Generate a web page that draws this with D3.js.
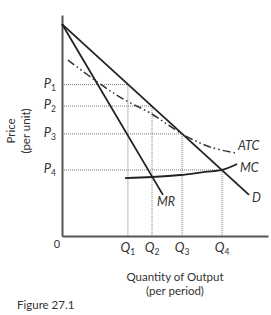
<!DOCTYPE html>
<html>
<head>
<meta charset="utf-8">
<script src="https://cdn.jsdelivr.net/npm/d3@7"></script>
<style>
  body { margin: 0; background: #fff; }
  text { font-family: Lato, "Liberation Sans", sans-serif; fill: #333; }
</style>
</head>
<body>
<script>
// Values (arbitrary units, 0-10 on both axes)
const priceLabels = ["P1", "P2", "P3", "P4"];
const priceLevels = [6.85, 5.88, 4.62, 2.99];
const qtyLabels = ["Q1", "Q2", "Q3", "Q4"];
const qtyLevels = [3.2, 4.37, 5.83, 7.77];

const demandLine = [[0, 9.59], [9.08, 1.86]];
const mrLine = [[0, 9.59], [4.9, 1.86]];
const atcCurve = [[0.29, 7.96], [1.99, 6.79], [3.06, 6.15], [4.27, 5.57], [5.83, 4.62], [7.18, 4.03], [8.4, 3.76]];
const mcCurve = [[3.06, 2.62], [4.37, 2.67], [5.73, 2.76], [6.94, 2.9], [7.77, 2.99], [8.5, 3.26]];

const width = 271, height = 315;
const margin = { left: 62, top: 15, right: 3, bottom: 79 };

const x = d3.scaleLinear().domain([0, 10]).range([margin.left, width - margin.right]);
const y = d3.scaleLinear().domain([0, 10]).range([height - margin.bottom, margin.top]);

const svg = d3.select("body").append("svg")
    .attr("width", width)
    .attr("height", height);

// dotted guide lines
const guides = svg.append("g")
    .attr("stroke", "#777")
    .attr("stroke-width", 1)
    .attr("stroke-dasharray", "1,1");

priceLevels.forEach((p, i) => {
    const q = qtyLevels[i];
    guides.append("line")
        .attr("x1", x(0)).attr("x2", x(q))
        .attr("y1", y(p)).attr("y2", y(p));
    guides.append("line")
        .attr("x1", x(q)).attr("x2", x(q))
        .attr("y1", y(p)).attr("y2", y(0));
});

// axes
svg.append("g")
    .attr("transform", `translate(0,${y(0)})`)
    .call(d3.axisBottom(x).tickValues([]).tickSizeOuter(0))
    .call(g => g.select(".domain").attr("stroke", "#555").attr("stroke-width", 2));
svg.append("g")
    .attr("transform", `translate(${x(0)},0)`)
    .call(d3.axisLeft(y).tickValues([]).tickSizeOuter(0))
    .call(g => g.select(".domain").attr("stroke", "#555").attr("stroke-width", 2));

const line = d3.line().x(d => x(d[0])).y(d => y(d[1]));
const curve = d3.line().x(d => x(d[0])).y(d => y(d[1])).curve(d3.curveCatmullRom);

svg.append("path").datum(demandLine)
    .attr("d", line).attr("fill", "none").attr("stroke", "#222").attr("stroke-width", 1.8);
svg.append("path").datum(mrLine)
    .attr("d", line).attr("fill", "none").attr("stroke", "#222").attr("stroke-width", 1.8);
svg.append("path").datum(atcCurve)
    .attr("d", curve).attr("fill", "none").attr("stroke", "#333").attr("stroke-width", 1.5)
    .attr("stroke-dasharray", "8,3,1.5,3,1.5,3");
svg.append("path").datum(mcCurve)
    .attr("d", curve).attr("fill", "none").attr("stroke", "#222").attr("stroke-width", 1.8);

// curve labels
const curveLabel = (txt, px, py) => svg.append("text")
    .attr("x", px).attr("y", py)
    .attr("font-size", 12.5).attr("font-style", "italic")
    .attr("dominant-baseline", "middle")
    .text(txt);
curveLabel("ATC", x(8.4) + 3, y(3.76) - 6);
curveLabel("MC", x(8.5) + 3, y(3.26) + 5);
curveLabel("D", x(9.08) + 3, y(1.86) + 4);
curveLabel("MR", x(4.9) - 6, y(1.86) + 8);

// P labels
priceLabels.forEach((lab, i) => {
    const t = svg.append("text")
        .attr("x", x(0) - 6).attr("y", y(priceLevels[i]))
        .attr("text-anchor", "end")
        .attr("dominant-baseline", "middle")
        .attr("font-size", 13).attr("font-style", "italic");
    t.append("tspan").text(lab[0]);
    t.append("tspan").attr("font-size", 8.5).attr("dy", 4).attr("font-style", "normal").text(lab.slice(1));
});

// Q labels
qtyLabels.forEach((lab, i) => {
    const t = svg.append("text")
        .attr("x", x(qtyLevels[i])).attr("y", y(0) + 16)
        .attr("text-anchor", "middle")
        .attr("font-size", 13).attr("font-style", "italic");
    t.append("tspan").text(lab[0]);
    t.append("tspan").attr("font-size", 8.5).attr("dy", 3).attr("font-style", "normal").text(lab.slice(1));
});

svg.append("text")
    .attr("x", x(0) - 5).attr("y", y(0) + 12)
    .attr("text-anchor", "middle").attr("font-size", 11)
    .text("0");

// axis titles
svg.append("text")
    .attr("transform", "translate(15,131) rotate(-90)")
    .attr("text-anchor", "middle").attr("font-size", 11.5)
    .text("Price");
svg.append("text")
    .attr("transform", "translate(30,131) rotate(-90)")
    .attr("text-anchor", "middle").attr("font-size", 11.5)
    .text("(per unit)");

svg.append("text")
    .attr("x", 175).attr("y", 281)
    .attr("text-anchor", "middle").attr("font-size", 11.5)
    .text("Quantity of Output");
svg.append("text")
    .attr("x", 175).attr("y", 295)
    .attr("text-anchor", "middle").attr("font-size", 11.5)
    .text("(per period)");

svg.append("text")
    .attr("x", 17).attr("y", 309)
    .attr("font-size", 11.5)
    .text("Figure 27.1");
</script>
</body>
</html>
